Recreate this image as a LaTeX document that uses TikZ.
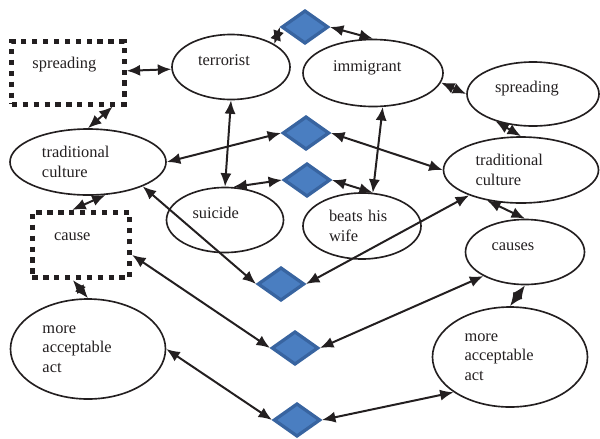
\documentclass[tikz,border=0pt]{standalone}
\usepackage{fontspec}
\setmainfont{Liberation Serif}
\usetikzlibrary{shapes.geometric}
\usetikzlibrary{arrows.meta}
\tikzset{>={Latex[length=11.5pt,width=9.5pt]}}
\definecolor{hubfill}{RGB}{74,126,193}
\definecolor{hubline}{RGB}{56,100,160}
\definecolor{ink}{RGB}{35,31,32}
\tikzset{oval/.style={ellipse,draw=ink,text=ink,line width=1.4pt,inner sep=0pt,align=left,font=\fontsize{14}{16.6}\selectfont}}
\tikzset{dotbox/.style={rectangle,draw=ink,text=ink,line width=4.2pt,dash pattern=on 4.5pt off 4.8pt,inner sep=0pt,align=left,font=\fontsize{14}{16.6}\selectfont}}
\tikzset{hub/.style={diamond,draw=hubline,fill=hubfill,line width=2.8pt,inner sep=0pt,minimum width=1.4cm,minimum height=1cm}}
\tikzset{link/.style={<->,draw=ink,line width=1.7pt}}
\tikzset{oneline/.style={text height=10pt,text depth=13pt}}
\tikzset{boxline/.style={text height=10pt,text depth=18pt}}

\begin{document}
\begin{tikzpicture}[x=0.03cm,y=-0.03cm]
                    \useasboundingbox (0,0) rectangle (600,438);

                    \node[dotbox, minimum width=3.37cm, minimum height=1.87cm, text width=2.13cm, boxline] (spreadL) at (68,73) {spreading};
                    \node[oval, minimum width=3.54cm, minimum height=1.95cm, text width=1.98cm, oneline] (terrorist) at (231,67) {terrorist};
                    \node[oval, minimum width=4.2cm, minimum height=2.01cm, text width=2.4cm, oneline] (immigrant) at (373,73) {immigrant};
                    \node[oval, minimum width=3.96cm, minimum height=1.92cm, text width=2.28cm, oneline] (spreadR) at (533,94) {spreading};
                    \node[oval, minimum width=4.68cm, minimum height=1.98cm, text width=2.76cm] (tradL) at (88,162) {traditional\\culture};
                    \node[oval, minimum width=4.65cm, minimum height=1.98cm, text width=2.73cm] (tradR) at (521,170) {traditional\\culture};
                    \node[oval, minimum width=3.51cm, minimum height=1.95cm, text width=1.95cm, oneline] (suicide) at (225,220) {suicide};
                    \node[oval, minimum width=3.54cm, minimum height=1.98cm, text width=1.98cm] (beats) at (362,226) {beats his\\wife};
                    \node[dotbox, minimum width=2.92cm, minimum height=1.96cm, text width=1.62cm, boxline] (cause) at (81,245) {cause};
                    \node[oval, minimum width=3.57cm, minimum height=1.95cm, text width=2.01cm, oneline] (causes) at (525,252) {causes};
                    \node[oval, minimum width=4.65cm, minimum height=3cm, text width=2.73cm] (moreL) at (88,349) {more\\acceptable\\act};
                    \node[oval, minimum width=4.65cm, minimum height=3cm, text width=2.73cm] (moreR) at (510,357) {more\\acceptable\\act};

                    \node[hub] (dTop) at (305,27) {};
                    \node[hub] (dUpper) at (306,133) {};
                    \node[hub] (dMid) at (307,180) {};
                    \node[hub] (dLow1) at (281,284) {};
                    \node[hub] (dLow2) at (295,348) {};
                    \node[hub] (dLow3) at (297,420) {};

                    \draw[link] (spreadL) -- (terrorist);
                    \draw[link] (tradL.north) -- (spreadL.-37);
                    \draw[link] (terrorist.28) -- (dTop.west);
                    \draw[link] (dTop.east) -- (immigrant.north);
                    \draw[link] (immigrant.-8) -- (spreadR.west);
                    \draw[link] (spreadR.-144) -- (tradR.north);
                    \draw[link] (terrorist.south) -- (suicide.north);
                    \draw[link] (immigrant.-74) -- (beats.72);
                    \draw[link] (tradL.east) -- (dUpper.west);
                    \draw[link] (dUpper.east) -- (tradR.west);
                    \draw[link] (suicide.76) -- (dMid.west);
                    \draw[link] (dMid.east) -- (beats.72);
                    \draw[link] (tradL.-24) -- (dLow1.west);
                    \draw[link] (dLow1.east) -- (tradR.-154);
                    \draw[link] (tradL.-62) -- (cause.104);
                    \draw[link] (tradR.-138) -- (causes.north);
                    \draw[link] (cause.-11) -- (dLow2.west);
                    \draw[link] (dLow2.east) -- (causes.-150);
                    \draw[link] (cause.-103) -- (moreL.north);
                    \draw[link] (causes.south) -- (moreR.north);
                    \draw[link] (moreL.east) -- (dLow3.west);
                    \draw[link] (dLow3.east) -- (moreR.-148);

                \end{tikzpicture}
\end{document}
